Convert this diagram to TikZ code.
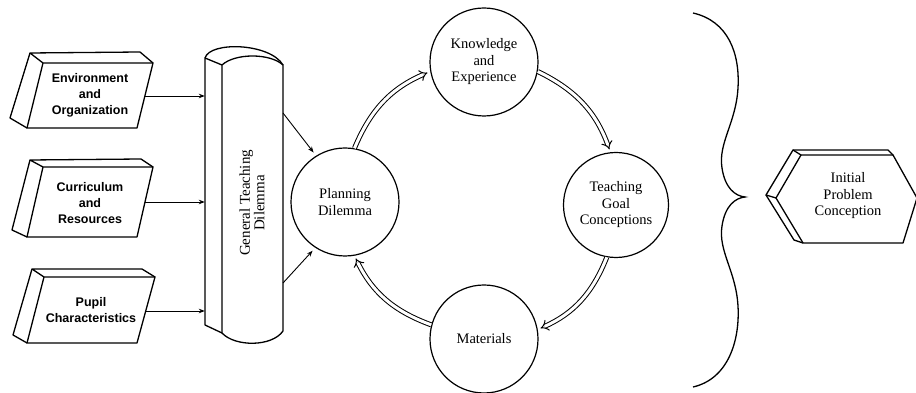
\documentclass[tikz,border=0pt]{standalone}
\usepackage{fontspec}
\setmainfont{Liberation Serif}
\newfontfamily\boxfont{Liberation Sans}
\usetikzlibrary{arrows.meta}

\begin{document}
\begin{tikzpicture}[x=1pt, y=1pt,
  outline/.style={line width=1.3pt, line join=round},
  stagefont/.style={align=center, font=\fontsize{14.5}{16.5}\selectfont},
  stage/.style={circle, draw, line width=1.2pt, minimum size=108pt, inner sep=0pt, stagefont},
  boxlabel/.style={align=center, font=\boxfont\bfseries\fontsize{12.5}{16}\selectfont},
  feed/.style={-{Stealth[length=6pt,width=4.5pt]}, line width=0.9pt},
  roundarrow/.style={double, double distance=3pt, line width=1pt, -{Implies}, shorten >=3pt}]

\useasboundingbox (0,0) rectangle (916,393);

% input boxes
\draw[outline] (27,265) -- (137,265) -- (153,330) -- (43,330) -- cycle;
\draw[outline] (43,330) -- (30,340) -- (140,341) -- (153,330);
\draw[outline] (30,340) -- (10,275) -- (27,265);
\node[boxlabel] (env) at (90,298) {Environment\\and\\Organization};
\coordinate (env-e) at (145,297);

\draw[outline] (27,156) -- (137,156) -- (153,226) -- (43,226) -- cycle;
\draw[outline] (43,226) -- (30,233) -- (141,234) -- (153,226);
\draw[outline] (30,233) -- (12,163) -- (27,156);
\node[boxlabel] (cur) at (90,190) {Curriculum\\and\\Resources};
\coordinate (cur-e) at (145,191);

\draw[outline] (27,50) -- (137,50) -- (155,116) -- (44,116) -- cycle;
\draw[outline] (44,116) -- (32,124) -- (142,124) -- (155,116);
\draw[outline] (32,124) -- (13,58) -- (27,50);
\node[boxlabel] (pup) at (91,83) {Pupil\\Characteristics};
\coordinate (pup-e) at (146,82);

% the general dilemma column
\draw[outline] (222,60) .. controls (235,46) and (272,46) .. (283,62) -- (283,328)
  .. controls (270,340) and (235,340) .. (222,328) -- cycle;
\draw[outline] (222,328) -- (205,335) -- (205,68) -- (222,60);
\draw[outline] (205,335) .. controls (210,352) and (270,350) .. (283,328);
\node[minimum width=78pt, minimum height=290pt, inner sep=0pt] (gtd) at (244,203) {};
\node[rotate=90, align=center, font=\fontsize{15}{13}\selectfont] (gtdlabel) at (252,190) {General Teaching\\Dilemma};

\draw[feed] (env-e) -- (env-e -| gtd.west);
\draw[feed] (cur-e) -- (cur-e -| gtd.west);
\draw[feed] (pup-e) -- (pup-e -| gtd.west);

% planning cycle
\node[stage] (pd) at (345,191) {Planning\\Dilemma};
\node[stage] (ke) at (484,331) {Knowledge\\and\\Experience};
\node[stage, minimum size=105pt] (tg) at (616,188) {Teaching\\Goal\\Conceptions};
\node[stage] (mat) at (484,54) {Materials};

\coordinate (gtd-a) at (283,280);
\coordinate (gtd-b) at (283,110);
\draw[feed, shorten >=4pt] (gtd-a) -- (pd.122);
\draw[feed, shorten >=4pt] (gtd-b) -- (pd.237);

\draw[roundarrow] (pd.80) to[bend left=22] (ke.190);
\draw[roundarrow] (ke.350) to[bend left=22] (tg.96);
\draw[roundarrow] (tg.260) to[bend left=22] (mat.10);
\draw[roundarrow] (mat.165) to[bend left=22] (pd.280);

% brace
\draw[line width=1.3pt] (693,380) .. controls (728,372) and (740,340) .. (738,305)
  .. controls (736,270) and (718,250) .. (722,225)
  .. controls (725,205) and (735,197) .. (745,196)
  .. controls (735,195) and (725,187) .. (722,167)
  .. controls (718,142) and (736,122) .. (738,87)
  .. controls (740,52) and (728,14) .. (693,6);

% result
\draw[outline] (776,195) -- (801,238) -- (893,238) -- (917,195) -- (903,150) -- (803,150) -- cycle;
\draw[outline] (776,195) -- (766,198) -- (793,243) -- (888,243) -- (893,238);
\draw[outline] (793,243) -- (801,238);
\draw[outline] (766,198) -- (794,153) -- (803,150);
\node[stagefont] (ipc) at (848,197) {Initial\\Problem\\Conception};

\end{tikzpicture}
\end{document}
